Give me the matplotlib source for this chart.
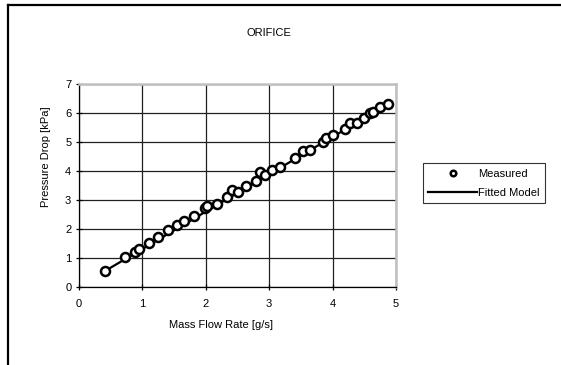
import numpy as np
import matplotlib
matplotlib.use("Agg")
import matplotlib.pyplot as plt
from matplotlib.lines import Line2D

plt.rcParams['font.family'] = ['Liberation Sans', 'DejaVu Sans']

# measured points
mass_flow = [0.41, 0.73, 0.88, 0.94, 1.10, 1.24, 1.41, 1.54, 1.65, 1.82,
             1.99, 2.02, 2.17, 2.33, 2.41, 2.51, 2.64, 2.79, 2.86, 2.94,
             3.05, 3.17, 3.41, 3.54, 3.64, 3.85, 3.90, 4.01, 4.20, 4.27,
             4.38, 4.50, 4.59, 4.64, 4.75, 4.88]
pressure_drop = [0.55, 1.05, 1.22, 1.31, 1.51, 1.73, 1.97, 2.14, 2.29, 2.45,
                 2.71, 2.80, 2.86, 3.11, 3.34, 3.29, 3.49, 3.66, 3.96, 3.86,
                 4.03, 4.15, 4.44, 4.69, 4.72, 5.01, 5.13, 5.24, 5.44, 5.64,
                 5.64, 5.84, 5.99, 6.05, 6.20, 6.31]

# fitted model line end points
fit_x = [0.41, 4.88]
fit_y = [0.55, 6.31]

W, H = 561, 365
fs = 8
fig = plt.figure(figsize=(W / 100, H / 100), dpi=100)
ax = fig.add_axes([78.9 / W, 1 - 287 / H, (396 - 78.9) / W, (287 - 84) / H])

ax.plot(fit_x, fit_y, color='black', lw=1.6, zorder=3)
ax.plot(mass_flow, pressure_drop, 'o', mfc='white', mec='black', mew=1.8,
        ms=6.5, zorder=4)

ax.set_xlim(0, 5)
ax.set_ylim(0, 7)
ax.set_xticks(range(0, 6))
ax.set_yticks(range(0, 8))
ax.grid(True, color='#202020', lw=0.9)
ax.set_axisbelow(True)
ax.tick_params(direction='inout', length=5, width=0.9, labelsize=fs,
               colors='black')
ax.tick_params(axis='x', pad=6)
ax.tick_params(axis='y', pad=3)

for side in ['top', 'right']:
    ax.spines[side].set_color('#c0c0c0')
    ax.spines[side].set_linewidth(1.8)
for side in ['left', 'bottom']:
    ax.spines[side].set_color('black')
    ax.spines[side].set_linewidth(0.9)

fig.text(269 / W, 1 - 33 / H, 'ORIFICE', ha='center', va='center', fontsize=fs)
fig.text(221 / W, 1 - 325 / H, 'Mass Flow Rate [g/s]', ha='center',
         va='center', fontsize=fs)
fig.text(46 / W, 1 - 157 / H, 'Pressure Drop [kPa]', ha='center',
         va='center', rotation=90, fontsize=fs)

handles = [
    Line2D([], [], marker='o', ls='none', mfc='white', mec='black', mew=1.8,
           ms=4),
    Line2D([], [], color='black', lw=1.6),
]
leg = fig.legend(handles, ['Measured', 'Fitted Model'], loc='upper left',
                 bbox_to_anchor=(422.7 / W, 1 - 163.3 / H), fontsize=fs,
                 handlelength=4.4, handletextpad=0.1, borderpad=0.5,
                 labelspacing=0.8, borderaxespad=0, fancybox=False)
leg.get_frame().set_edgecolor('black')
leg.get_frame().set_linewidth(0.8)

# outer frame on the top and left edges
fig.add_artist(Line2D([7.5 / W, 7.5 / W], [0, 1 - 5 / H], color='black',
                      lw=1.6, transform=fig.transFigure))
fig.add_artist(Line2D([7.5 / W, 1], [1 - 5 / H, 1 - 5 / H], color='black',
                      lw=1.6, transform=fig.transFigure))

fig.savefig('out.png', dpi=100)
